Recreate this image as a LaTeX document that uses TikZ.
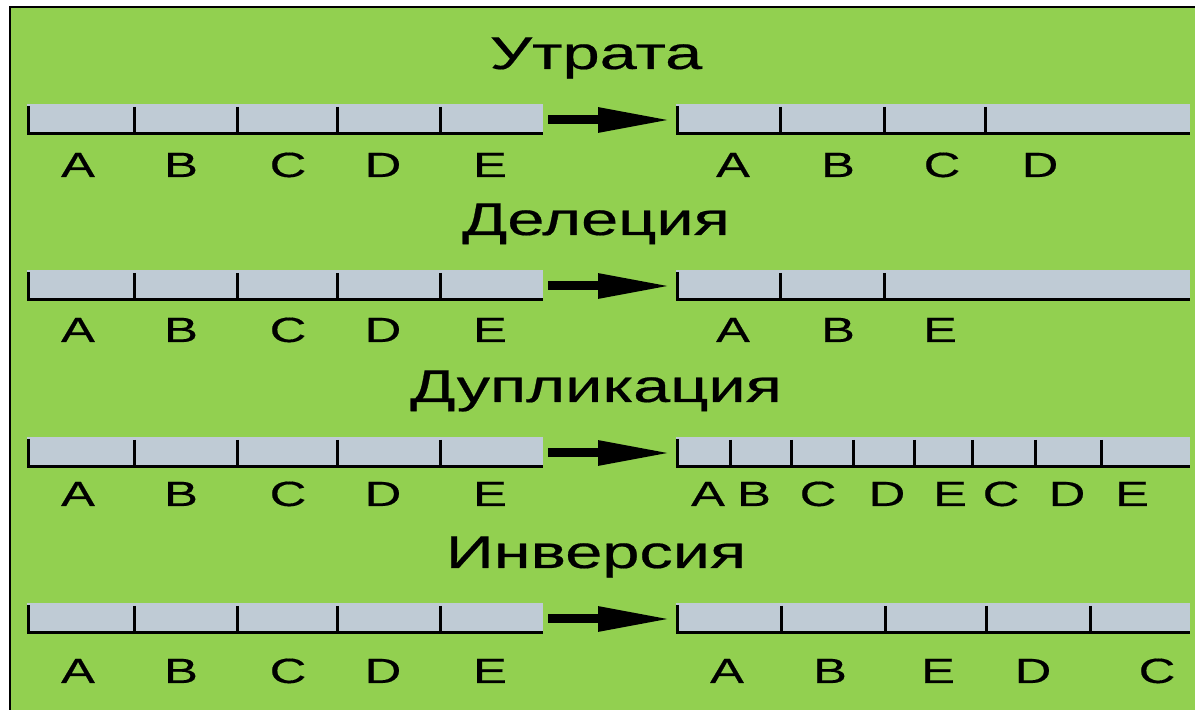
\documentclass[tikz,border=0pt]{standalone}
\usepackage{fontspec}
\setmainfont[FakeBold=0.4,AutoFakeBold=0.4]{Liberation Sans}
\usetikzlibrary{arrows.meta}
\definecolor{leaf}{RGB}{146,208,80}
\definecolor{strand}{RGB}{191,203,213}

\begin{document}
\begin{tikzpicture}[x=0.5pt,y=-0.5pt,
  heading/.style={anchor=base, inner sep=0pt, xscale=1.45,
    font=\fontsize{23}{23}\selectfont\bfseries},
  gene/.style={anchor=base, inner sep=0pt, xscale=1.45,
    font=\fontsize{17.5}{17.5}\selectfont\bfseries},
  strandfill/.style={fill=strand},
  edge/.style={line width=1.5pt, black},
  mutate/.style={line width=4.5pt, black,
    -{Triangle[length=37pt,width=11.5pt]},
    shorten <=2.5pt, shorten >=2pt}
]
\useasboundingbox (0,0) rectangle (1195,710);
% page and green panel with its frame
\fill[white] (0,0) rectangle (1195,710);
\fill[leaf] (10,7) rectangle (1195,710);
\draw[line width=1pt] (10,710) |- (1195,7);

\foreach \r/\T/\name/\tb/\lb/\ticks/\labels in {
  1/104/Утрата/69/177/{780,884,985}/{733/A,838/B,942/C,1040/D},
  2/270/Делеция/235/342/{780,884}/{733/A,838/B,940/E},
  3/437/Дупликация/402/506/{730,791,853,914,972,1035,1101}/{708/A,754/B,818/C,887/D,950/E,1001/C,1067/D,1132/E},
  4/603/Инверсия/568/683/{781,885,986,1090}/{727/A,830/B,938/E,1033/D,1157/C}}
{
  % heading
  \node[heading] (t\r) at (596,\tb) {\name};

  % original chromosome A-E
  \fill[strandfill] (27,\T) rectangle (543,\T+30);
  \draw[edge] (28.5,\T+2) |- (543,\T+30);
  \foreach \x in {134,237,337,440}
    \draw[edge] (\x,\T+3) -- (\x,\T+30);
  \foreach \x/\g [count=\k] in {78/A,181/B,288/C,383/D,490/E}
    \node[gene] (l\r-\k) at (\x,\lb) {\g};
  \coordinate (L\r) at (543,\T+16);

  % rearranged chromosome
  \fill[strandfill] (676,\T) rectangle (1190,\T+30);
  \draw[edge] (677.5,\T+2) |- (1190,\T+30);
  \foreach \x in \ticks
    \draw[edge] (\x,\T+3) -- (\x,\T+30);
  \foreach \x/\g [count=\k] in \labels
    \node[gene] (r\r-\k) at (\x,\lb) {\g};
  \coordinate (R\r) at (676,\T+16);

  % mutation arrow
  \draw[mutate] (L\r) -- (R\r);
}
\end{tikzpicture}
\end{document}
